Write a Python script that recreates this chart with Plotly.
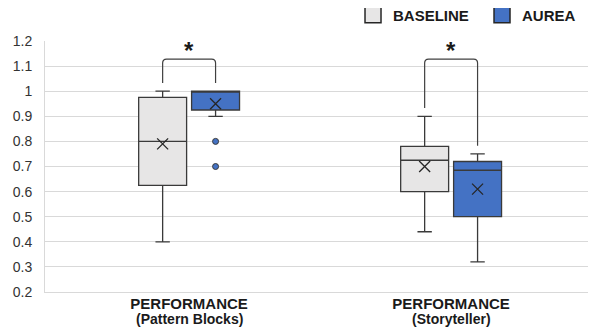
import plotly.graph_objects as go

# ---- data ----
categories = ["PERFORMANCE (Pattern Blocks)", "PERFORMANCE (Storyteller)"]
tick_labels = ["<b>PERFORMANCE</b>", "<b>PERFORMANCE</b>"]
sub_labels = ["(Pattern Blocks)", "(Storyteller)"]
series_names = ["BASELINE", "AUREA"]

baseline_min = [0.40, 0.44]
baseline_q1 = [0.625, 0.60]
baseline_median = [0.80, 0.725]
baseline_q3 = [0.975, 0.78]
baseline_max = [1.00, 0.90]
baseline_mean = [0.79, 0.70]

aurea_min = [0.90, 0.32]
aurea_q1 = [0.925, 0.50]
aurea_median = [1.00, 0.685]
aurea_q3 = [1.00, 0.72]
aurea_max = [1.00, 0.75]
aurea_mean = [0.95, 0.61]
aurea_outliers = [[0.80, 0.70], []]

significance = ["*", "*"]

y_tick_vals = [0.2, 0.3, 0.4, 0.5, 0.6, 0.7, 0.8, 0.9, 1.0, 1.1, 1.2]
y_tick_text = ["0.2", "0.3", "0.4", "0.5", "0.6", "0.7", "0.8", "0.9", "1", "1.1", "1.2"]

# ---- style ----
colors = {"BASELINE": "#e7e6e6", "AUREA": "#4472c4"}
edge = "#3a3a3a"
offset = 0.101
box_w = 0.183
font_family = "Liberation Sans, Arial, sans-serif"

fig = go.Figure()

stats = {
    "BASELINE": (baseline_min, baseline_q1, baseline_median, baseline_q3, baseline_max, baseline_mean, [[], []]),
    "AUREA": (aurea_min, aurea_q1, aurea_median, aurea_q3, aurea_max, aurea_mean, aurea_outliers),
}

for si, name in enumerate(series_names):
    mn, q1, med, q3, mx, mean, outl = stats[name]
    sign = -1 if si == 0 else 1
    xs = [i + sign * offset for i in range(len(categories))]
    fig.add_trace(go.Box(
        x=xs, q1=q1, median=med, q3=q3, lowerfence=mn, upperfence=mx,
        width=box_w, whiskerwidth=0.3,
        fillcolor=colors[name], line=dict(color=edge, width=1.3),
        name=name, showlegend=False, boxpoints=False, hoverinfo="skip",
    ))
    fig.add_trace(go.Scatter(
        x=xs, y=mean, mode="markers", showlegend=False, hoverinfo="skip",
        marker=dict(symbol="x-thin", size=11, line=dict(color="#262626", width=1.3)),
    ))
    ox, oy = [], []
    for i, pts in enumerate(outl):
        for p in pts:
            ox.append(xs[i]); oy.append(p)
    if ox:
        fig.add_trace(go.Scatter(
            x=ox, y=oy, mode="markers", showlegend=False, hoverinfo="skip",
            marker=dict(symbol="circle", size=6, color=colors[name], line=dict(color=edge, width=1)),
        ))
    # legend entry
    fig.add_trace(go.Scatter(
        x=[None], y=[None], mode="markers", name=f"<b>{name}</b>",
        marker=dict(symbol="square", size=17, color=colors[name], line=dict(color="#262626", width=1.5)),
    ))

# significance brackets
top = 1.128
gap = 0.033
rx, ry = 0.015, 0.016
for i, s in enumerate(significance):
    xl, xr = i - offset, i + offset
    yl, yr = baseline_max[i] + gap, aurea_max[i] + gap
    path = (f"M {xl},{yl} L {xl},{top - ry} Q {xl},{top} {xl + rx},{top} "
            f"L {xr - rx},{top} Q {xr},{top} {xr},{top - ry} L {xr},{yr}")
    fig.add_shape(type="path", path=path, xref="x", yref="y",
                  line=dict(color="#404040", width=1.2))
    fig.add_annotation(x=i, y=top, xref="x", yref="y", text=f"<b>{s}</b>",
                       showarrow=False, yanchor="bottom", yshift=-7,
                       font=dict(size=24, color="#1a1a1a", family=font_family))

# category sub-labels (second line of the x tick labels)
for i, s in enumerate(sub_labels):
    fig.add_annotation(x=i, y=-0.106, xref="x", yref="paper", text=f"<b>{s}</b>",
                       showarrow=False, yanchor="middle",
                       font=dict(size=14, color="#1a1a1a", family=font_family))

fig.update_layout(
    width=588, height=325,
    margin=dict(l=37, r=0, t=33, b=41, autoexpand=False),
    plot_bgcolor="white", paper_bgcolor="white",
    font=dict(family=font_family, color="#333333"),
    showlegend=True,
    legend=dict(orientation="h", x=0.559, xanchor="left", y=1.1036, yanchor="middle",
                font=dict(size=15, color="#1a1a1a", family=font_family),
                entrywidth=84, entrywidthmode="pixels",
                itemsizing="trace", bgcolor="rgba(0,0,0,0)"),
    xaxis=dict(range=[-0.55, 1.553], tickvals=[0, 1], ticktext=tick_labels,
               showgrid=False, zeroline=False, showline=True, linecolor="#d9d9d9",
               ticks="", ticklabelstandoff=-2,
               tickfont=dict(size=15, color="#1a1a1a", family=font_family)),
    yaxis=dict(range=[0.2, 1.2], tickvals=y_tick_vals, ticktext=y_tick_text,
               showgrid=True, gridcolor="#d9d9d9", gridwidth=1.3, zeroline=False,
               showline=True, linecolor="#d9d9d9",
               ticks="outside", ticklen=9, tickcolor="rgba(0,0,0,0)",
               tickfont=dict(size=14, color="#333333", family=font_family)),
)

fig.write_html("out.html")
